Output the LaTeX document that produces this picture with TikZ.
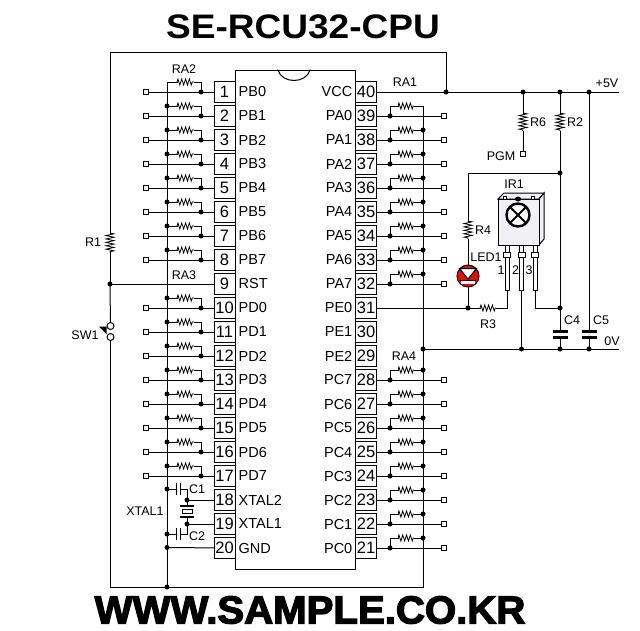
\documentclass[tikz,border=0pt]{standalone}
\usepackage{fontspec}
\setmainfont{Liberation Sans}
\newfontfamily\heavyf[BoldFeatures={FakeBold=3.2}]{Liberation Sans}
\usetikzlibrary{decorations.pathmorphing}
\definecolor{irbody}{HTML}{F1F0F5}
\tikzset{
  wire/.style={line width=1pt,line cap=rect},
  pinbox/.style={draw,line width=1pt,fill=white,minimum width=21,minimum height=21,inner sep=0pt,font=\fontsize{16.5}{18}\selectfont},
  pinname/.style={inner sep=0pt,font=\fontsize{14.5}{16}\selectfont},
  lbl/.style={inner sep=0pt,font=\fontsize{12.5}{14}\selectfont},
  dot/.style={circle,fill=black,inner sep=0pt,minimum size=5},
  term/.style={rectangle,draw,line width=1pt,fill=white,inner sep=0pt,minimum size=5.5},
  contact/.style={circle,draw,line width=1pt,fill=white,inner sep=0pt,minimum size=7},
  resh/.style={line width=.8pt,decorate,decoration={zigzag,segment length=3.8,amplitude=3}},
  resv/.style={line width=.8pt,decorate,decoration={zigzag,segment length=3.4,amplitude=4}},
  plate/.style={line width=2.4pt},
  leg/.style={draw,line width=1pt,fill=white},
}
\begin{document}
\begin{tikzpicture}[x=1pt,y=-1pt]
\useasboundingbox (0,0) rectangle (640,630);
\fill[white] (0,0) rectangle (640,630);
% titles
\node[inner sep=0pt,font=\fontsize{34}{36}\selectfont\bfseries,xscale=1.09] (title) at (303,27) {SE-RCU32-CPU};
\node[inner sep=0pt,font=\fontsize{39}{41}\selectfont\heavyf\bfseries,xscale=1.03] (site) at (310,610) {WWW.SAMPLE.CO.KR};
% chip
\draw[wire,fill=white] (235,70) rectangle (355,569);
\draw[wire] (278,70) .. controls (282,84) and (306,84) .. (310,70);
% left pins
\foreach \t [count=\k] in {PB0,PB1,PB2,PB3,PB4,PB5,PB6,PB7,RST,PD0,PD1,PD2,PD3,PD4,PD5,PD6,PD7,XTAL2,XTAL1,GND}{
  \pgfmathsetmacro\y{92+24*(\k-1)}
  \node[pinbox] (pin\k) at (224.5,\y) {\k};
  \node[pinname,anchor=west] (nm\k) at (238.5,\y) {\t};
}
% right pins
\foreach \t [count=\n] in {VCC,PA0,PA1,PA2,PA3,PA4,PA5,PA6,PA7,PE0,PE1,PE2,PC7,PC6,PC5,PC4,PC3,PC2,PC1,PC0}{
  \pgfmathtruncatemacro\k{41-\n}
  \pgfmathsetmacro\y{92+24*(\n-1)}
  \node[pinbox] (pin\k) at (366,\y) {\k};
  \node[pinname,anchor=east] (nm\k) at (352.5,\y) {\t};
}
% key junctions
\coordinate (lbtop) at (167,82);
\coordinate (lbbot) at (167,587);
\coordinate (rbtop) at (423,106);
\coordinate (rbbot) at (423,587);
\coordinate (otl) at (110,52);
\coordinate (otr) at (446,52);
\coordinate (r1a) at (110,233);
\coordinate (r1b) at (110,252);
% buses
\draw[wire] (lbtop) -- (lbbot);
\draw[wire] (rbtop) -- (rbbot) -- (lbbot) -- (110,587);
% left pull-ups
\foreach \k in {1,...,8,10,11,...,17}{
  \pgfmathsetmacro\y{92+24*(\k-1)}
  \pgfmathsetmacro\u{\y-10}
  \node[term] (lt\k) at (146,\y) {};
  \coordinate (lj\k) at (201,\y);
  \coordinate (lb\k) at (167,\u);
  \coordinate (la\k) at (177,\u);
  \coordinate (lc\k) at (194,\u);
  \draw[wire] (lt\k) -- (pin\k);
  \draw[wire] (lb\k) -- (la\k);
  \draw[resh] (la\k) -- (lc\k);
  \draw[wire] (lc\k) -| (lj\k);
  \node[dot] (ljd\k) at (lj\k) {};
}
\foreach \k in {2,...,8,10,11,...,17}{ \node[dot] (lbd\k) at (lb\k) {}; }
% right pull-ups
\foreach \k in {39,38,...,32,28,27,...,21}{
  \pgfmathsetmacro\y{92+24*(40-\k)}
  \pgfmathsetmacro\u{\y-10}
  \node[term] (rt\k) at (444,\y) {};
  \coordinate (rj\k) at (390,\y);
  \coordinate (rb\k) at (423,\u);
  \coordinate (ra\k) at (398,\u);
  \coordinate (rc\k) at (414,\u);
  \draw[wire] (pin\k) -- (rt\k);
  \draw[wire] (rj\k) |- (ra\k);
  \draw[resh] (ra\k) -- (rc\k);
  \draw[wire] (rc\k) -- (rb\k);
  \node[dot] (rjd\k) at (rj\k) {};
}
\foreach \k in {38,37,...,32,28,27,...,21}{ \node[dot] (rbd\k) at (rb\k) {}; }
% outer loop, reset, switch
\node[dot] (vccj) at (446,92) {};
\node[dot] (rstj) at (110,284) {};
\node[contact] (sw1a) at (110.5,326) {};
\node[contact] (sw1b) at (110.5,337) {};
\draw[wire] (vccj) -- (otr) -- (otl) -- (r1a);
\draw[resv] (r1a) -- (r1b);
\draw[wire] (r1b) -- (rstj) -- (pin9);
\draw[wire] (rstj) -- (sw1a);
\draw[wire] (sw1b) -- (110.5,587);
\fill (99,326.5) -- (106.5,326.5) -- (106.5,334) -- cycle;
% bottom dots, GND
\node[dot] (gndb) at (167,547.5) {};
\draw[wire] (gndb) -- (pin20);
\node[dot] (botb) at (lbbot) {};
% crystal
\node[dot] (xa) at (187,500) {};
\node[dot] (xb) at (187,524) {};
\node[dot] (c1b) at (167,489) {};
\node[dot] (c2b) at (167,534) {};
\coordinate (c1l) at (176,489);
\coordinate (c1r) at (180,489);
\coordinate (c2l) at (176,534);
\coordinate (c2r) at (180,534);
\draw[wire] (c1b) -- (c1l);
\draw[wire] (c2b) -- (c2l);
\draw[line width=1pt] (176,483) -- (176,495) (180,483) -- (180,495);
\draw[line width=1pt] (176,528) -- (176,540) (180,528) -- (180,540);
\draw[wire] (c1r) -| (xa);
\draw[wire] (c2r) -| (xb);
\draw[wire] (xa) -- (pin18);
\draw[wire] (xb) -- (pin19);
\coordinate (xt) at (187,506);
\coordinate (xu) at (187,517);
\draw[wire] (xa) -- (xt);
\draw[wire] (xb) -- (xu);
\draw[plate,line width=1.6pt] (180,506) -- (194,506) (180,517) -- (194,517);
\draw[line width=1pt,fill=white] (182,509.5) rectangle (192,513.5);
% rails
\coordinate (pe) at (618,92);
\coordinate (ze) at (618,349);
\node[dot] (r6t) at (523,92) {};
\node[dot] (r2t) at (560,92) {};
\node[dot] (c5t) at (589,92) {};
\node[dot] (g0) at (423,349) {};
\node[dot] (g2) at (521.5,349) {};
\node[dot] (g4) at (560,349) {};
\node[dot] (g5) at (589,349) {};
\draw[wire] (pin40) -- (pe);
\draw[wire] (g0) -- (ze);
% R6
\coordinate (r6a) at (523,113);
\coordinate (r6b) at (523,131);
\node[term] (pgm) at (523,154) {};
\draw[wire] (r6t) -- (r6a);
\draw[resv] (r6a) -- (r6b);
\draw[wire] (r6b) -- (pgm);
% R2 and C4
\coordinate (r2a) at (560,113);
\coordinate (r2b) at (560,131);
\node[dot] (ledt) at (560,173) {};
\node[dot] (irg) at (560,308) {};
\coordinate (c4a) at (560,331.5);
\coordinate (c4b) at (560,337.5);
\draw[wire] (r2t) -- (r2a);
\draw[resv] (r2a) -- (r2b);
\draw[wire] (r2b) -- (c4a);
\draw[wire] (c4b) -- (g4);
\draw[plate] (552.5,331.5) -- (568,331.5) (552.5,337.5) -- (568,337.5);
% C5
\coordinate (c5a) at (589,331.5);
\coordinate (c5b) at (589,337.5);
\draw[wire] (c5t) -- (c5a);
\draw[wire] (c5b) -- (g5);
\draw[plate] (581.5,331.5) -- (597,331.5) (581.5,337.5) -- (597,337.5);
% R4, LED
\coordinate (r4a) at (468,221);
\coordinate (r4b) at (468,239);
\node[dot] (pe0) at (468,308) {};
\node[circle,fill=red,draw=black,line width=1pt,inner sep=0pt,minimum size=22] (led) at (468,276) {};
\draw[wire] (ledt) -| (r4a);
\draw[resv] (r4a) -- (r4b);
\draw[wire] (r4b) -- (led);
\draw[wire] (led) -- (pe0);
\draw[line width=1pt,fill=white] (459.5,268.5) -- (476.5,268.5) -- (468,279) -- cycle;
\fill[white] (461,280.5) rectangle (475,284);
\draw[line width=1pt] (460,280) -- (476,280);
% pin 31, R3
\coordinate (r3a) at (480,308);
\coordinate (r3b) at (496,308);
\draw[wire] (pin31) -- (pe0) -- (r3a);
\draw[resh] (r3a) -- (r3b);
% IR module
\coordinate (leg1) at (507,290);
\coordinate (leg2) at (521.5,290);
\coordinate (leg3) at (535,290);
\draw[wire] (r3b) -| (leg1);
\draw[wire] (leg2) -- (g2);
\draw[wire] (leg3) |- (irg);
\draw[line width=1pt,fill=irbody] (498,199) -- (504,193) -- (544,193) -- (539,199) -- cycle;
\draw[line width=1pt,fill=irbody] (539,199) -- (544,193) -- (544,239) -- (539,245) -- cycle;
\draw[line width=1pt,fill=irbody] (498,199) rectangle (539,245);
\draw[line width=.8pt,fill=white] (503,196) rectangle (506,199) (531,196) rectangle (534,199);
\fill (518,199) ellipse (3 and 2.5);
\foreach \p/\x in {1/507,2/521.5,3/535}{
  \draw[leg] (\x-2,245) rectangle (\x+2,290);
  \draw[leg] (\x-3.5,252) rectangle (\x+3.5,257);
}
\draw[line width=2.4pt,fill=white] (518,215) circle (11.5);
\draw[line width=2pt] (510,207) -- (526,223) (510,223) -- (526,207);
% labels
\node[lbl] (lRA2) at (184,69) {RA2};
\node[lbl] (lRA1) at (405,82) {RA1};
\node[lbl] (lRA3) at (184,275) {RA3};
\node[lbl] (lRA4) at (404,356) {RA4};
\node[lbl] (lR1) at (93,242) {R1};
\node[lbl] (lSW1) at (85,335) {SW1};
\node[lbl] (lC1) at (197,489) {C1};
\node[lbl] (lC2) at (197,536) {C2};
\node[lbl] (lXT) at (145,511) {XTAL1};
\node[lbl] (lp5) at (607,83) {+5V};
\node[lbl] (l0v) at (612,341) {0V};
\node[lbl] (lR6) at (538,122) {R6};
\node[lbl] (lR2) at (575,122) {R2};
\node[lbl] (lPGM) at (501,156) {PGM};
\node[lbl] (lIR) at (514,184) {IR1};
\node[lbl] (lR4) at (483,230) {R4};
\node[lbl] (lLED) at (486,257) {LED1};
\node[lbl] (lR3) at (488,324) {R3};
\node[lbl] (lC4) at (572,320) {C4};
\node[lbl] (lC5) at (601,320) {C5};
\node[lbl] (l1) at (501,270) {1};
\node[lbl] (l2) at (515.5,270) {2};
\node[lbl] (l3) at (529,270) {3};
\end{tikzpicture}
\end{document}
